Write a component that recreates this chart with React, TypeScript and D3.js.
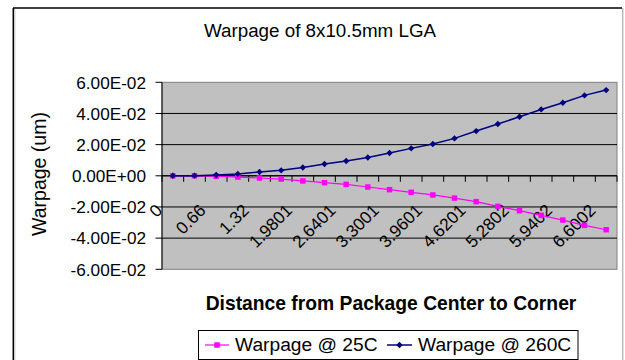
import React from "react";
import * as d3 from "d3";

// Distance from package center to corner (mm), one entry per sample point
const distances = [
  "0", "0.33", "0.66", "0.99", "1.32", "1.65", "1.9801", "2.3101", "2.6401", "2.9701",
  "3.3001", "3.6301", "3.9601", "4.2901", "4.6201", "4.9502", "5.2802", "5.6102",
  "5.9402", "6.2702", "6.6002",
];

// Warpage (um) at room temperature
const warpage25C = [
  0, 0, -0.0003, -0.0008, -0.0014, -0.0021, -0.0033, -0.0044, -0.0055, -0.0072,
  -0.0089, -0.0106, -0.0123, -0.0143, -0.0166, -0.0196, -0.0224, -0.0254, -0.0284,
  -0.0318, -0.0346,
];

// Warpage (um) at reflow peak
const warpage260C = [
  0, 0.0001, 0.0005, 0.0012, 0.0024, 0.0035, 0.0053, 0.0076, 0.0095, 0.0117,
  0.0146, 0.0176, 0.0204, 0.024, 0.0287, 0.0332, 0.0379, 0.0426, 0.0469, 0.0516,
  0.055,
];

const yTicks = [0.06, 0.04, 0.02, 0, -0.02, -0.04, -0.06];
const yTickLabels = ["6.00E-02", "4.00E-02", "2.00E-02", "0.00E+00", "-2.00E-02", "-4.00E-02", "-6.00E-02"];

const seriesNames = ["Warpage @ 25C", "Warpage @ 260C"];

const FONT = "'Liberation Sans', Arial, Helvetica, sans-serif";

export default function App() {
  const W = 625;
  const H = 360;
  const plot = { left: 162, right: 617, top: 82.3, bottom: 269.3 };

  const x = d3.scaleBand<string>().domain(distances).range([plot.left, plot.right]).padding(0);
  const y = d3.scaleLinear().domain([-0.06, 0.06]).range([plot.bottom, plot.top]);
  const cx = (i: number) => (x(distances[i]) as number) + x.bandwidth() / 2;

  const line = d3
    .line<number>()
    .x((_, i) => cx(i))
    .y((d) => y(d));

  const diamond = d3.symbol().type(d3.symbolDiamond2).size(26)() as string;
  const square = d3.symbol().type(d3.symbolSquare).size(30)() as string;

  const y0 = y(0);
  const boundaries = d3.range(distances.length + 1).map((i) => plot.left + i * x.bandwidth());

  return (
    <svg
      width={W}
      height={H}
      style={{ position: "absolute", left: 0, top: 0, background: "#fff" }}
      fontFamily={FONT}
    >
      <rect x={0} y={0} width={W} height={H} fill="#fff" />
      {/* chart frame */}
      <line x1={13} y1={8} x2={622} y2={8} stroke="#000" strokeWidth={1.5} />
      <line x1={13.3} y1={8} x2={13.3} y2={H} stroke="#000" strokeWidth={1.5} />
      <line x1={14.8} y1={9} x2={14.8} y2={H} stroke="#bbb" strokeWidth={1} />
      <line x1={622.8} y1={8} x2={622.8} y2={H} stroke="#999" strokeWidth={1} />

      {/* title */}
      <text x={320} y={37} textAnchor="middle" fontSize={18.8} fill="#000">
        Warpage of 8x10.5mm LGA
      </text>

      {/* plot area */}
      <rect
        x={plot.left}
        y={plot.top}
        width={plot.right - plot.left}
        height={plot.bottom - plot.top}
        fill="#c0c0c0"
        stroke="#808080"
        strokeWidth={1}
      />
      {yTicks.map((t) =>
        t === 0.06 || t === -0.06 ? null : (
          <line key={t} x1={plot.left} x2={plot.right} y1={y(t)} y2={y(t)} stroke="#000" strokeWidth={1} />
        )
      )}

      {/* value axis */}
      <line x1={plot.left} x2={plot.left} y1={plot.top} y2={plot.bottom} stroke="#000" strokeWidth={1} />
      {yTicks.map((t, i) => (
        <g key={t}>
          <line x1={plot.left - 6.5} x2={plot.left} y1={y(t)} y2={y(t)} stroke="#000" strokeWidth={1} />
          <text x={146} y={y(t)} dy="0.37em" textAnchor="end" fontSize={17.2} fill="#000">
            {yTickLabels[i]}
          </text>
        </g>
      ))}

      {/* category axis at zero */}
      <line x1={plot.left} x2={plot.right} y1={y0} y2={y0} stroke="#000" strokeWidth={1} />
      {boundaries.map((bx, i) => (
        <line key={i} x1={bx} x2={bx} y1={y0} y2={y0 + 6} stroke="#000" strokeWidth={1} />
      ))}
      {distances.map((d, i) =>
        i % 2 === 0 ? (
          <text
            key={d}
            transform={`translate(${cx(i) - 9.5},${211.5}) rotate(-45)`}
            textAnchor="end"
            fontSize={17.2}
            fill="#000"
          >
            {d}
          </text>
        ) : null
      )}

      {/* series */}
      <path d={line(warpage25C) as string} fill="none" stroke="#ff00ff" strokeWidth={1.2} />
      {warpage25C.map((v, i) => (
        <path key={i} d={square} transform={`translate(${cx(i)},${y(v)})`} fill="#ff00ff" />
      ))}
      <path d={line(warpage260C) as string} fill="none" stroke="#000080" strokeWidth={1.5} />
      {warpage260C.map((v, i) => (
        <path key={i} d={diamond} transform={`translate(${cx(i)},${y(v)})`} fill="#000080" />
      ))}

      {/* axis titles */}
      <text
        transform={`translate(46,174) rotate(-90)`}
        textAnchor="middle"
        fontSize={19.5}
        fill="#000"
      >
        Warpage (um)
      </text>
      <text x={391} y={310} textAnchor="middle" fontSize={19.3} fontWeight="bold" fill="#000">
        Distance from Package Center to Corner
      </text>

      {/* legend */}
      <rect x={198.5} y={330.5} width={379.5} height={29} fill="#fff" stroke="#000" strokeWidth={1} />
      <line x1={205} x2={229} y1={345} y2={345} stroke="#ff00ff" strokeWidth={1.2} />
      <path d={square} transform="translate(217,345)" fill="#ff00ff" />
      <text x={235} y={351} fontSize={19.2} fill="#000">
        {seriesNames[0]}
      </text>
      <line x1={387} x2={412} y1={345} y2={345} stroke="#000080" strokeWidth={1.5} />
      <path d={diamond} transform="translate(399.5,345)" fill="#000080" />
      <text x={418} y={351} fontSize={19.2} fill="#000">
        {seriesNames[1]}
      </text>
    </svg>
  );
}
